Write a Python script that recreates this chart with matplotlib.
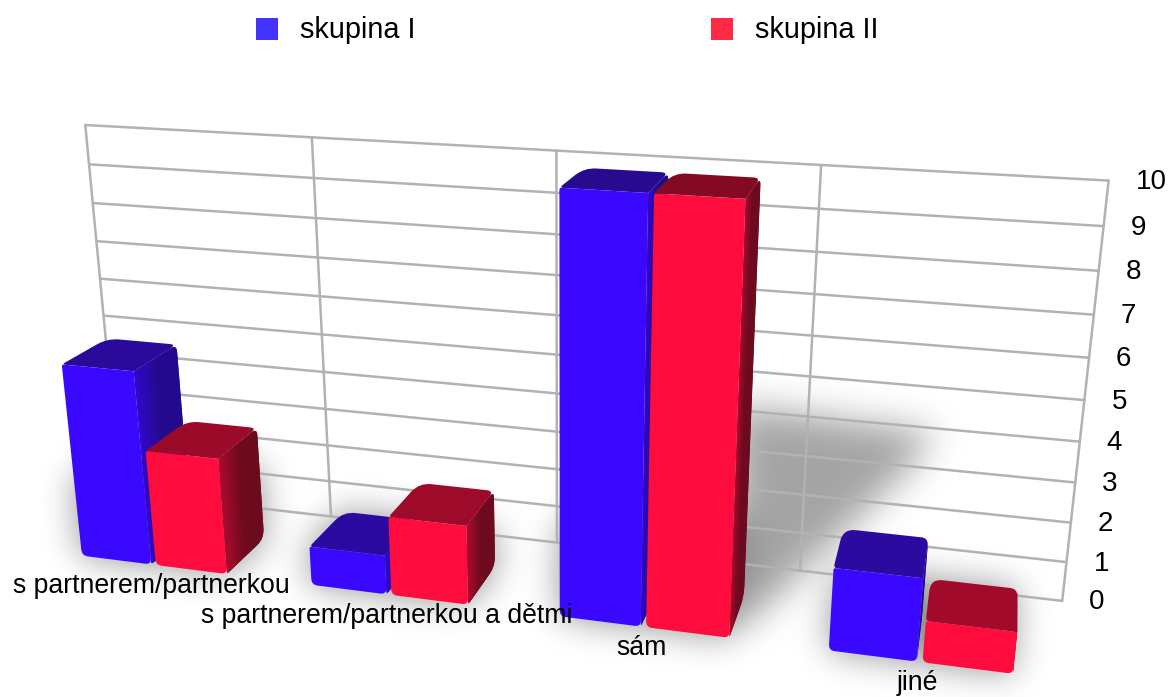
import numpy as np
import matplotlib
matplotlib.use("Agg")
from matplotlib import pyplot as plt
from matplotlib.colors import to_rgb
from matplotlib.patches import PathPatch, Polygon, Rectangle
from matplotlib.path import Path

WIDTH, HEIGHT = 1172, 697

categories = ["s partnerem/partnerkou", "s partnerem/partnerkou a dětmi", "sám", "jiné"]
series_names = ["skupina I", "skupina II"]
skupina_1 = [5, 1, 10, 2]
skupina_2 = [3, 2, 10, 1]
value_ticks = list(range(0, 11))

BAR_DEPTH = 0.55

# Perspective camera: chart coordinates (category, depth, value) --> picture pixels
CAMERA = np.array([
    [216.6179157, 88.5135328, -4.504419, 42.3979782],
    [7.3164311, -15.7219778, -40.9058492, 550.6538705],
    [-0.0369808, 0.0868763, -0.0079922, 1.0],
])


def project(x, y, z):
    p = CAMERA @ np.array([x, y, z, 1.0])
    return p[0] / p[2], p[1] / p[2]


# Closed path with each corner cut by a small curve
def rounded(points, radii):
    pts = np.array(points, float)
    n = len(pts)
    verts, codes = [], []
    for i in range(n):
        prev_dir = pts[i - 1] - pts[i]
        next_dir = pts[(i + 1) % n] - pts[i]
        r = radii[i]
        a = pts[i] + prev_dir / np.linalg.norm(prev_dir) * r
        b = pts[i] + next_dir / np.linalg.norm(next_dir) * r
        verts.append(a)
        codes.append(Path.MOVETO if i == 0 else Path.LINETO)
        verts += [pts[i], b]
        codes += [Path.CURVE3, Path.CURVE3]
    verts.append(verts[0])
    codes.append(Path.CLOSEPOLY)
    return Path(verts, codes)


def mix(c1, c2, t):
    return tuple((1 - t) * np.array(to_rgb(c1)) + t * np.array(to_rgb(c2)))


def draw_bar(ax, x0, x1, value, style):
    d = BAR_DEPTH
    # Right side with a shading from front to back
    side_pts = [project(x1, 0, 0), project(x1, d, 0), project(x1, d, value), project(x1, 0, value)]
    side = PathPatch(rounded(side_pts, [3, 10, 7, 0]), facecolor=style["side"][1], edgecolor="none", zorder=3)
    ax.add_patch(side)
    steps = 14
    for k in range(steps):
        y0, y1 = d * k / steps, d * (k + 1.3) / steps
        strip = Polygon([project(x1, y0, 0), project(x1, y1, 0), project(x1, y1, value), project(x1, y0, value)],
                        facecolor=mix(style["side"][0], style["side"][1], min(1, k / (steps * 0.45))),
                        edgecolor="none", zorder=3)
        ax.add_patch(strip)
        strip.set_clip_path(side)

    top_color = mix(style["top"], style["top_dark"], value / 10)
    top_pts = [project(x0, 0, value), project(x1, 0, value), project(x1, d, value), project(x0, d, value)]
    ax.add_patch(PathPatch(rounded(top_pts, [4, 1, 7, 12]), facecolor=top_color, edgecolor="none", zorder=4))

    front_pts = [project(x0, 0, 0), project(x1, 0, 0), project(x1, 0, value), project(x0, 0, value)]
    ax.add_patch(PathPatch(rounded(front_pts, [6, 6, 1, 2]), facecolor=style["front"], edgecolor="none", zorder=5))


# Blurred mask of some polygons (padded so the FFT does not wrap around the picture)
def blurred(polys, sigma, grid):
    pad = 120
    mask = np.zeros((HEIGHT + pad, WIDTH + pad))
    for poly in polys:
        inside = Path(poly).contains_points(grid).reshape(HEIGHT, WIDTH)
        mask[:HEIGHT, :WIDTH] = np.maximum(mask[:HEIGHT, :WIDTH], inside)
    fy = np.fft.fftfreq(HEIGHT + pad)[:, None]
    fx = np.fft.rfftfreq(WIDTH + pad)[None, :]
    kernel = np.exp(-2 * np.pi ** 2 * sigma ** 2 * (fx ** 2 + fy ** 2))
    return np.fft.irfft2(np.fft.rfft2(mask) * kernel, s=mask.shape)[:HEIGHT, :WIDTH]


BLUE = dict(front="#3A08FF", top="#2C0AA4", top_dark="#260A90", side=("#3008C8", "#230A8C"))
RED = dict(front="#FF0C3E", top="#A50A2C", top_dark="#830A22", side=("#A80A2C", "#6E0A1E"))

plt.rcParams["font.family"] = ["Liberation Sans", "DejaVu Sans"]
fig = plt.figure(figsize=(WIDTH / 100, HEIGHT / 100), dpi=100)
ax = fig.add_axes([0, 0, 1, 1])

# Soft shadows behind everything
yy, xx = np.mgrid[:HEIGHT, :WIDTH]
grid_pts = np.c_[xx.ravel() + 0.5, yy.ravel() + 0.5]
contact = []
for i, (a, b) in enumerate(zip(skupina_1, skupina_2)):
    h = min(0.5 * max(a, b), 2)
    contact.append([project(i + 0.18, 0, 0), project(i + 0.82, 0, 0), project(i + 0.82, BAR_DEPTH, 0),
                    project(i + 0.82, BAR_DEPTH, h), project(i + 0.18, BAR_DEPTH, h), project(i + 0.18, 0, h)])
wall_shadow = [(735, 405), (935, 432), (910, 468), (775, 598), (735, 628)]
shadow = 1 - (1 - 0.42 * blurred(contact, 17, grid_pts)) * (1 - 0.36 * blurred([wall_shadow], 18, grid_pts))
rgba = np.zeros((HEIGHT, WIDTH, 4))
rgba[..., 3] = np.clip(shadow, 0, 1)
ax.imshow(rgba, extent=(0, WIDTH, HEIGHT, 0), aspect="auto", zorder=0, interpolation="nearest")

# Back wall grid
grid_color = "#B2B2B2"
for v in value_ticks:
    p0, p1 = project(0, 1, v), project(4, 1, v)
    ax.plot([p0[0], p1[0]], [p0[1], p1[1]], color=grid_color, lw=1.8, zorder=1, solid_capstyle="round")
    ax.text(p1[0] + 27, p1[1] + 1.5, str(v), fontsize=20, ha="left", va="center", color="black", zorder=8)
for c in range(len(categories) + 1):
    p0, p1 = project(c, 1, 0), project(c, 1, 10)
    ax.plot([p0[0], p1[0]], [p0[1], p1[1]], color=grid_color, lw=1.8, zorder=1, solid_capstyle="round")

# Bars
for i in range(len(categories)):
    draw_bar(ax, i + 0.18, i + 0.49, skupina_1[i], BLUE)
    draw_bar(ax, i + 0.51, i + 0.82, skupina_2[i], RED)

# Category labels under the bars
for i, name in enumerate(categories):
    lx, ly = project(i + 0.5, 0, 0)
    ax.text(lx - 2, ly + 21, name, fontsize=19.2, ha="center", va="center", color="black", zorder=8)

# Legend
for name, color, sx in zip(series_names, ["#4433FF", "#FF2A44"], [256, 711]):
    ax.add_patch(Rectangle((sx, 18), 22, 22, facecolor=color, edgecolor="none", zorder=8))
    ax.text(sx + 44, 29.5, name, fontsize=20.8, ha="left", va="center", color="black", zorder=8)

ax.set_xlim(0, WIDTH)
ax.set_ylim(HEIGHT, 0)
ax.axis("off")
fig.savefig("out.png", dpi=100)
